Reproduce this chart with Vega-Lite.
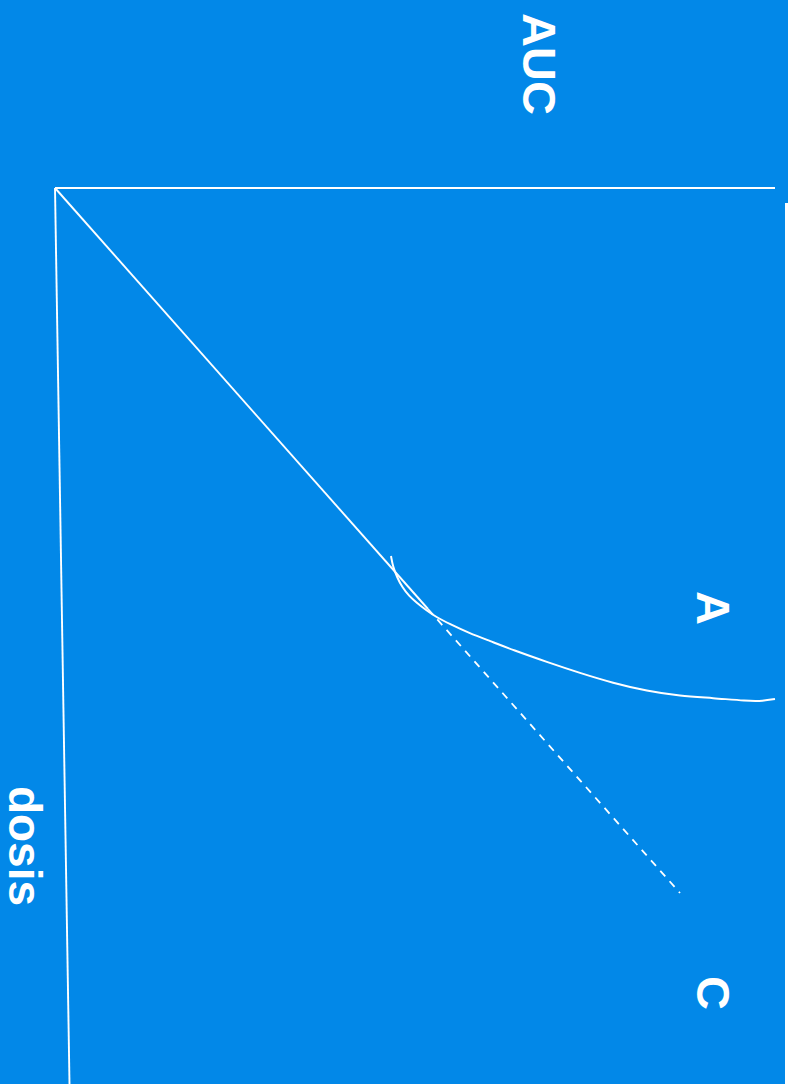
{
  "$schema": "https://vega.github.io/schema/vega-lite/v6.json",
  "width": 788,
  "height": 1084,
  "autosize": {"type": "none"},
  "padding": 0,
  "background": "#0288E8",
  "config": {"view": {"stroke": null}},
  "datasets": {
    "lines": [
      {"series": "axisAUC", "order": 0, "auc": 0, "dosis": 0},
      {"series": "axisAUC", "order": 1, "auc": 720, "dosis": 0},
      {"series": "axisDosis", "order": 0, "auc": 0, "dosis": 0},
      {"series": "axisDosis", "order": 1, "auc": 14.5, "dosis": 896},
      {"series": "diagonal", "order": 0, "auc": 0, "dosis": 0},
      {"series": "diagonal", "order": 1, "auc": 373, "dosis": 421}
    ],
    "dashed": [
      {"series": "C", "order": 0, "auc": 373, "dosis": 421},
      {"series": "C", "order": 1, "auc": 625, "dosis": 705}
    ],
    "curveA": [
      {"auc": 336, "dosis": 368},
      {"auc": 338, "dosis": 379},
      {"auc": 342, "dosis": 389},
      {"auc": 347, "dosis": 399},
      {"auc": 354, "dosis": 408},
      {"auc": 362, "dosis": 415},
      {"auc": 371, "dosis": 422},
      {"auc": 381, "dosis": 429},
      {"auc": 395, "dosis": 436},
      {"auc": 414, "dosis": 445},
      {"auc": 435, "dosis": 453},
      {"auc": 458, "dosis": 462},
      {"auc": 492, "dosis": 474},
      {"auc": 525, "dosis": 485},
      {"auc": 558, "dosis": 495},
      {"auc": 592, "dosis": 503},
      {"auc": 625, "dosis": 508},
      {"auc": 658, "dosis": 510},
      {"auc": 692, "dosis": 513},
      {"auc": 708, "dosis": 513},
      {"auc": 720, "dosis": 511}
    ],
    "strip": [
      {"auc": 730, "auc2": 733, "dosis": 15, "dosis2": 896}
    ],
    "labels": [
      {"text": "AUC", "auc": 482, "dosis": -124, "size": 47},
      {"text": "A", "auc": 656, "dosis": 420, "size": 47},
      {"text": "C", "auc": 656, "dosis": 805, "size": 47},
      {"text": "dosis", "auc": -32, "dosis": 658, "size": 46}
    ]
  },
  "encoding": {
    "x": {"field": "auc", "type": "quantitative", "scale": {"domain": [-55, 733], "nice": false, "zero": false}, "axis": null},
    "y": {"field": "dosis", "type": "quantitative", "scale": {"domain": [-188, 896], "nice": false, "zero": false, "reverse": true}, "axis": null}
  },
  "layer": [
    {
      "data": {"name": "strip"},
      "mark": {"type": "rect", "color": "white"},
      "encoding": {
        "x2": {"field": "auc2"},
        "y2": {"field": "dosis2"}
      }
    },
    {
      "data": {"name": "lines"},
      "mark": {"type": "line", "color": "white", "strokeWidth": 1.9},
      "encoding": {
        "detail": {"field": "series"},
        "order": {"field": "order", "type": "quantitative"}
      }
    },
    {
      "data": {"name": "dashed"},
      "mark": {"type": "line", "color": "white", "strokeWidth": 1.8, "strokeDash": [7.5, 6.5]},
      "encoding": {
        "order": {"field": "order", "type": "quantitative"}
      }
    },
    {
      "data": {"name": "curveA"},
      "mark": {"type": "line", "color": "white", "strokeWidth": 2, "interpolate": "basis"},
      "encoding": {}
    },
    {
      "data": {"name": "labels"},
      "mark": {"type": "text", "color": "white", "font": "Liberation Sans", "fontWeight": "bold", "angle": 90, "align": "center", "baseline": "middle"},
      "encoding": {
        "text": {"field": "text"},
        "size": {"field": "size", "type": "quantitative", "scale": null}
      }
    }
  ]
}
